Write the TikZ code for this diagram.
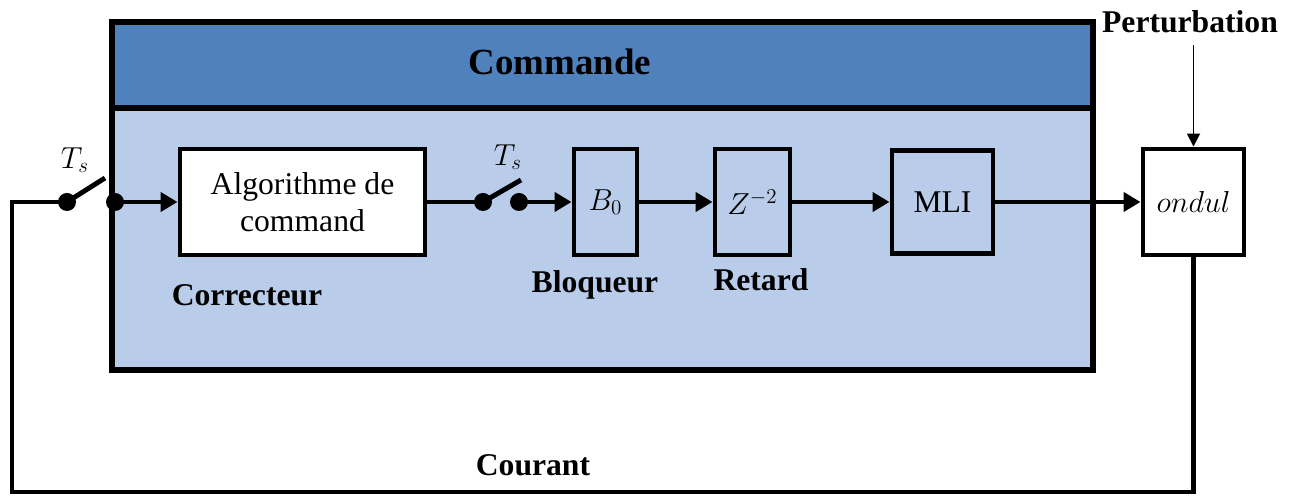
\documentclass[tikz,border=0pt]{standalone}
\usepackage{fontspec}
\setmainfont{Liberation Serif}
\usetikzlibrary{arrows.meta}

\definecolor{cmdhead}{HTML}{4F81BD}
\definecolor{cmdbody}{HTML}{B9CDEA}

\tikzset{
  bloc/.style={draw=black, line width=2.8pt, minimum height=2.12cm, inner sep=2pt, align=center},
  fil/.style={line width=2.8pt, -{Triangle[length=0.34cm,width=0.38cm]}},
  plot/.style={circle, fill=black, inner sep=0pt, minimum size=0.36cm},
  titre/.style={font=\fontsize{18}{21}\selectfont\bfseries}
}

\begin{document}
\begin{tikzpicture}[font=\fontsize{18}{21}\selectfont]
 \useasboundingbox (0,0) rectangle (25.86,9.94);

 % bloc commande
 \fill[cmdbody] (2.24,2.54) rectangle (21.86,9.50);
 \fill[cmdhead] (2.24,7.78) rectangle (21.86,9.50);
 \draw[line width=3.2pt] (2.24,2.54) rectangle (21.86,9.50);
 \draw[line width=3.2pt] (2.24,7.78) -- (21.86,7.78);
 \node[titre, font=\fontsize{21}{24}\selectfont\bfseries] (cmd) at (11.2,8.70) {Commande};

 % blocs
 \node[bloc, fill=white, minimum width=4.9cm] (algo) at (6.05,5.9) {Algorithme de\\command};
 \node[bloc, minimum width=1.26cm] (bloq) at (12.11,5.9) {$B_0$};
 \node[bloc, minimum width=1.5cm] (ret) at (15.05,5.9) {$Z^{-2}$};
 \node[bloc, minimum width=2.02cm, minimum height=2.06cm] (mli) at (18.85,5.9) {MLI};
 \node[bloc, fill=white, minimum width=2.02cm] (ond) at (23.87,5.9) {$ondul$};

 % interrupteurs
 \node[plot] (s1a) at (1.34,5.9) {};
 \node[plot] (s1b) at (2.30,5.9) {};
 \coordinate (l1) at (2.10,6.38);
 \draw[line width=2.8pt] (s1a.center) -- (l1);
 \node (ts1) at (1.50,6.74) {$T_s$};

 \node[plot] (s2a) at (9.66,5.9) {};
 \node[plot] (s2b) at (10.38,5.9) {};
 \coordinate (l2) at (10.42,6.34);
 \draw[line width=2.8pt] (s2a.center) -- (l2);
 \node (ts2) at (10.16,6.80) {$T_s$};

 % liaisons
 \draw[fil] (s1b.center) -- (algo.west);
 \draw[line width=2.8pt] (algo.east) -- (s2a.center);
 \draw[fil] (s2b.center) -- (bloq.west);
 \draw[fil] (bloq.east) -- (ret.west);
 \draw[fil] (ret.east) -- (mli.west);
 \draw[fil] (mli.east) -- (ond.west);

 % perturbation
 \node[titre] (pert) at (23.8,9.50) {Perturbation};
 \coordinate (p0) at (23.87,9.04);
 \draw[line width=1pt, -{Triangle[length=0.26cm,width=0.26cm]}] (p0) -- (ond.north);

 % retour
 \coordinate (r1) at (23.87,0.10);
 \coordinate (r2) at (0.24,0.10);
 \coordinate (r3) at (0.24,5.9);
 \draw[line width=2.8pt] (ond.south) -- (r1) -- (r2) -- (r3) -- (s1a.center);

 % etiquettes
 \node[titre] (corr) at (4.94,4.04) {Correcteur};
 \node[titre] (blq) at (11.9,4.24) {Bloqueur};
 \node[titre] (rtd) at (15.22,4.34) {Retard};
 \node[titre] (cour) at (10.66,0.64) {Courant};
\end{tikzpicture}
\end{document}
